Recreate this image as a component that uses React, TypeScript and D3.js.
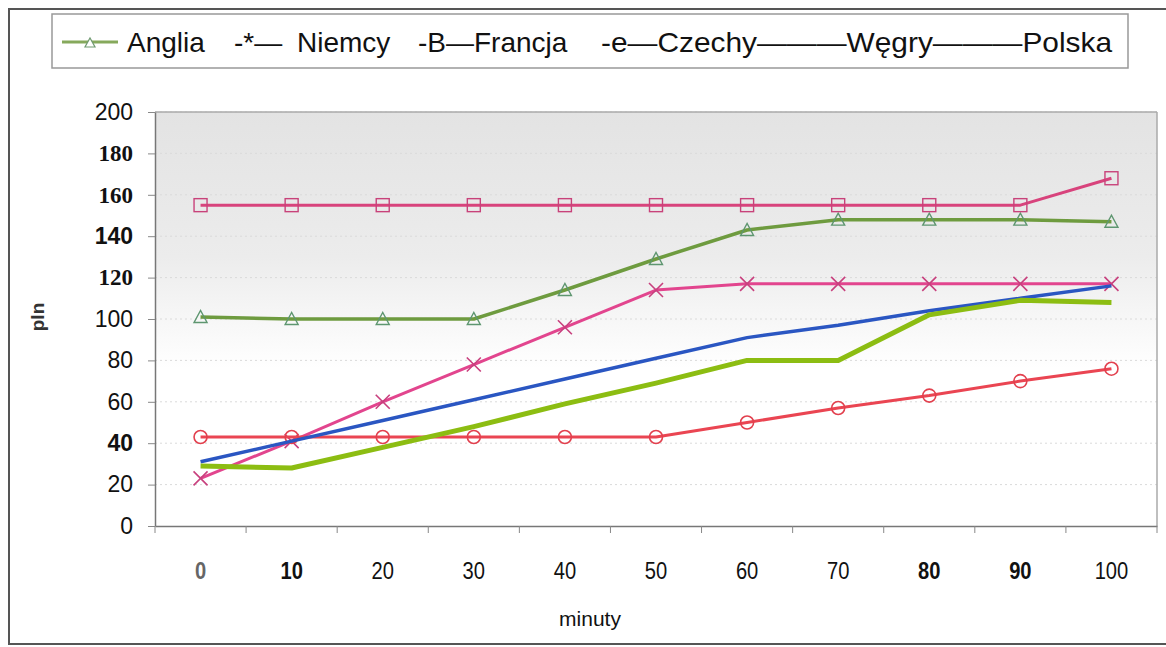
import React, { useEffect, useRef } from 'react';
import * as d3 from 'd3';

// minutes on the x axis
const minutes = ['0', '10', '20', '30', '40', '50', '60', '70', '80', '90', '100'];
const yTicks = [0, 20, 40, 60, 80, 100, 120, 140, 160, 180, 200];

const anglia = [101, 100, 100, 100, 114, 129, 143, 148, 148, 148, 147];
const niemcy = [23, 41, 60, 78, 96, 114, 117, 117, 117, 117, 117];
const francja = [155, 155, 155, 155, 155, 155, 155, 155, 155, 155, 168];
const czechy = [43, 43, 43, 43, 43, 43, 50, 57, 63, 70, 76];
const wegry = [31, 41, 51, 61, 71, 81, 91, 97, 104, 110, 116];
const polska = [29, 28, 38, 48, 59, 69, 80, 80, 102, 109, 108];

const series = [
  { name: 'Anglia', values: anglia, color: '#6e9b3f', width: 3.5, marker: 'triangle', markerColor: '#5e9670' },
  { name: 'Niemcy', values: niemcy, color: '#e2458e', width: 3, marker: 'cross', markerColor: '#c8407e' },
  { name: 'Francja', values: francja, color: '#d8437c', width: 3, marker: 'square', markerColor: '#c8427a' },
  { name: 'Czechy', values: czechy, color: '#ea4552', width: 3, marker: 'circle', markerColor: '#e2404e' },
  { name: 'Węgry', values: wegry, color: '#2a56c2', width: 3.5, marker: 'none', markerColor: '' },
  { name: 'Polska', values: polska, color: '#8cbd12', width: 5, marker: 'none', markerColor: '' },
];

// the scanned original mixes fonts on its tick labels
const yTickStyle: Record<number, [string, string]> = {
  180: ['Liberation Serif', 'bold'], 160: ['Liberation Serif', 'bold'], 120: ['Liberation Serif', 'bold'],
  140: ['Liberation Sans', 'bold'], 40: ['Liberation Sans', 'bold'],
};
const xBold = ['0', '10', '80', '90'];

export default function App() {
  const ref = useRef<SVGSVGElement>(null);

  useEffect(() => {
    const svg = d3.select(ref.current);
    svg.selectAll('*').remove();

    const left = 155, right = 1157, top = 112, bottom = 526;
    const x = d3.scaleBand().domain(minutes).range([left, right]);
    const y = d3.scaleLinear().domain([0, 200]).range([bottom, top]);
    const cx = (i: number) => (x(minutes[i]) as number) + x.bandwidth() / 2;

    // outer frame
    svg.append('rect').attr('x', 9).attr('y', 9).attr('width', 1180).attr('height', 635)
      .attr('fill', 'white').attr('stroke', '#555').attr('stroke-width', 2);

    // legend
    const lg = svg.append('g');
    lg.append('rect').attr('x', 52).attr('y', 14).attr('width', 1076).attr('height', 54)
      .attr('fill', 'white').attr('stroke', '#999').attr('stroke-width', 1.5);
    lg.append('line').attr('x1', 62).attr('x2', 118).attr('y1', 42).attr('y2', 42)
      .attr('stroke', '#86a95c').attr('stroke-width', 3);
    lg.append('path').attr('d', 'M85,47 L95,47 L90,38 Z').attr('fill', 'white')
      .attr('stroke', '#6f9a70').attr('stroke-width', 1.2);
    const legendTexts: [string, number, number][] = [
      ['Anglia', 127, 0], ['-*—', 234, 0], ['Niemcy', 297, 0], ['-B—Francja', 418, 0],
      ['-e—Czechy———Węgry———Polska', 601, 511],
    ];
    lg.selectAll('text.leg').data(legendTexts).join('text').attr('class', 'leg')
      .attr('x', d => d[1]).attr('y', 52)
      .attr('textLength', d => (d[2] ? d[2] : null))
      .attr('lengthAdjust', 'spacingAndGlyphs')
      .style('font-family', 'Liberation Sans, Arial, sans-serif').style('font-size', '28px')
      .attr('fill', '#111').text(d => d[0]);

    // plot background
    const defs = svg.append('defs');
    const grad = defs.append('linearGradient').attr('id', 'bg').attr('x1', 0).attr('x2', 0).attr('y1', 0).attr('y2', 1);
    grad.append('stop').attr('offset', '0%').attr('stop-color', '#e3e3e3');
    grad.append('stop').attr('offset', '35%').attr('stop-color', '#ececec');
    grad.append('stop').attr('offset', '62%').attr('stop-color', '#ffffff');
    grad.append('stop').attr('offset', '100%').attr('stop-color', '#ffffff');
    svg.append('rect').attr('x', left).attr('y', top).attr('width', right - left).attr('height', bottom - top)
      .attr('fill', 'url(#bg)');

    // gridlines
    svg.append('g').selectAll('line').data(yTicks.filter(t => t > 0)).join('line')
      .attr('x1', left).attr('x2', right).attr('y1', d => y(d)).attr('y2', d => y(d))
      .attr('stroke', '#dadada').attr('stroke-dasharray', '2,3').attr('stroke-width', 1);

    // plot borders
    svg.append('line').attr('x1', left).attr('x2', right).attr('y1', top).attr('y2', top)
      .attr('stroke', '#aaa').attr('stroke-width', 1.5);
    svg.append('line').attr('x1', right).attr('x2', right).attr('y1', top).attr('y2', bottom)
      .attr('stroke', '#aaa').attr('stroke-width', 1.5);

    // y axis
    const ya = svg.append('g').attr('transform', `translate(${left},0)`)
      .call(d3.axisLeft(y).tickValues(yTicks).tickSize(7).tickSizeOuter(0).tickPadding(15));
    ya.select('.domain').attr('stroke', '#777').attr('stroke-width', 1.5);
    ya.selectAll('.tick line').attr('stroke', '#888');
    ya.selectAll<SVGTextElement, number>('.tick text')
      .style('font-family', d => (yTickStyle[d] ? yTickStyle[d][0] : 'Liberation Sans') + ', sans-serif')
      .style('font-weight', d => (yTickStyle[d] ? yTickStyle[d][1] : 'normal'))
      .style('font-size', '23px').attr('fill', '#111');

    // x axis
    const xa = svg.append('g').attr('transform', `translate(0,${bottom})`)
      .call(d3.axisBottom(x).tickSize(0).tickPadding(36));
    xa.select('.domain').attr('stroke', '#777').attr('stroke-width', 1.5);
    xa.selectAll<SVGTextElement, string>('.tick text')
      .style('font-family', 'Liberation Sans, sans-serif')
      .attr('transform', 'scale(0.84,1)')
      .style('font-weight', d => (xBold.includes(d) ? 'bold' : 'normal'))
      .style('font-size', '24px').attr('fill', d => (d === '0' ? '#666' : '#111'));
    svg.append('g').selectAll('line').data(minutes.concat(['end'])).join('line')
      .attr('x1', (d, i) => left + i * x.bandwidth()).attr('x2', (d, i) => left + i * x.bandwidth())
      .attr('y1', bottom).attr('y2', bottom + 7).attr('stroke', '#888');

    // axis titles
    svg.append('text').attr('transform', 'translate(44,317) rotate(-90)').attr('text-anchor', 'middle')
      .style('font-family', 'Liberation Sans, sans-serif').style('font-size', '19px').style('font-weight', 'bold')
      .attr('fill', '#333').text('pln');
    svg.append('text').attr('x', 590).attr('y', 626).attr('text-anchor', 'middle')
      .style('font-family', 'Liberation Sans, sans-serif').style('font-size', '21px')
      .attr('fill', '#111').text('minuty');

    // lines and markers
    const line = d3.line<number>().x((d, i) => cx(i)).y(d => y(d));
    series.forEach(s => {
      const g = svg.append('g');
      g.append('path').datum(s.values).attr('d', line).attr('fill', 'none')
        .attr('stroke', s.color).attr('stroke-width', s.width).attr('stroke-linejoin', 'round');
      const pts = g.selectAll('g.m').data(s.values).join('g').attr('class', 'm')
        .attr('transform', (d, i) => `translate(${cx(i)},${y(d)})`);
      if (s.marker === 'square') {
        pts.append('rect').attr('x', -6.5).attr('y', -6.5).attr('width', 13).attr('height', 13)
          .attr('fill', 'none').attr('stroke', s.markerColor).attr('stroke-width', 1.4);
      } else if (s.marker === 'circle') {
        pts.append('circle').attr('r', 6.5).attr('fill', 'none').attr('stroke', s.markerColor).attr('stroke-width', 1.6);
      } else if (s.marker === 'triangle') {
        pts.append('path').attr('d', 'M-6.5,5.5 L6.5,5.5 L0,-6.5 Z').attr('fill', 'none')
          .attr('stroke', s.markerColor).attr('stroke-width', 1.4);
      } else if (s.marker === 'cross') {
        pts.append('path').attr('d', 'M-7,-7 L7,7 M-7,7 L7,-7').attr('stroke', s.markerColor).attr('stroke-width', 1.6);
      }
    });
  }, []);

  return <svg ref={ref} width={1166} height={647} style={{ position: 'absolute', left: 0, top: 0 }} />;
}
